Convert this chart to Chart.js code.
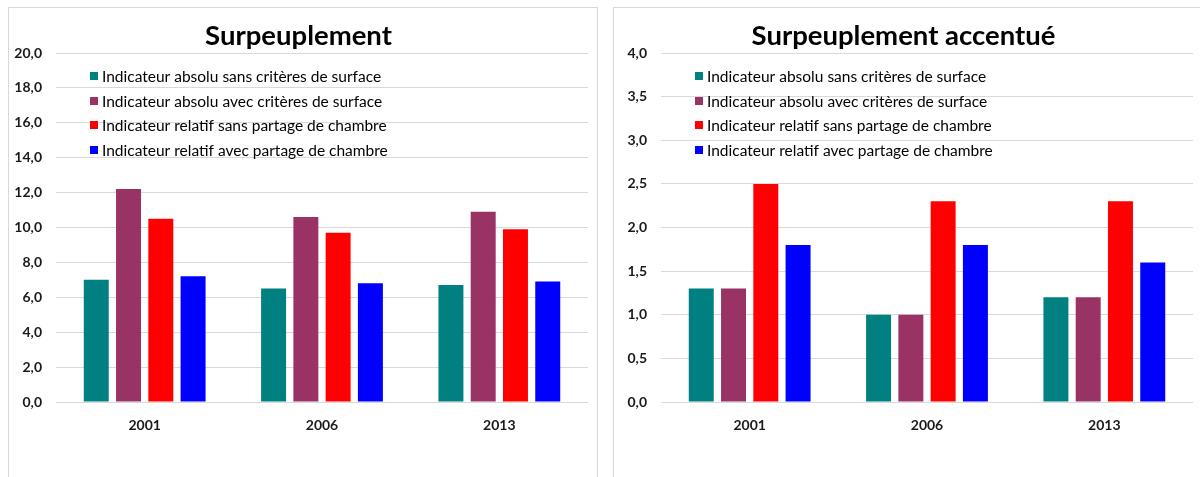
<!DOCTYPE html>
<html lang="fr">
<head>
<meta charset="utf-8">
<title>Surpeuplement</title>
<script src="https://cdn.jsdelivr.net/npm/chart.js@4/dist/chart.umd.min.js"></script>
<style>
    html, body { margin: 0; padding: 0; background: #fff; }
    body { width: 1200px; height: 477px; position: relative; overflow: hidden; }
    .panel {
        position: absolute;
        top: 7px;
        width: 588px;
        height: 480px;
        border: 1px solid #d9d9d9;
        background: #fff;
    }
    .panel canvas { display: block; }
</style>
</head>
<body>
<div class="panel" style="left:8px"><canvas id="chart-surp" width="588" height="470"></canvas></div>
<div class="panel" style="left:613px"><canvas id="chart-acc" width="588" height="470"></canvas></div>

<script>
// Years on the x axis
const years = ['2001', '2006', '2013'];

// Series names and colours (same for both panels)
const seriesLabels = [
    'Indicateur absolu sans critères de surface',
    'Indicateur absolu avec critères de surface',
    'Indicateur relatif sans partage de chambre',
    'Indicateur relatif avec partage de chambre'
];
const seriesColors = ['#008080', '#993366', '#ff0000', '#0000ff'];

// Surpeuplement (%)
const surpAbsoluSans = [7.0, 6.5, 6.7];
const surpAbsoluAvec = [12.2, 10.6, 10.9];
const surpRelatifSans = [10.5, 9.7, 9.9];
const surpRelatifAvec = [7.2, 6.8, 6.9];

// Surpeuplement accentué (%)
const accAbsoluSans = [1.3, 1.0, 1.2];
const accAbsoluAvec = [1.3, 1.0, 1.2];
const accRelatifSans = [2.5, 2.3, 2.3];
const accRelatifAvec = [1.8, 1.8, 1.6];

// Y axis ticks
const surpTicks = [0, 2, 4, 6, 8, 10, 12, 14, 16, 18, 20];
const accTicks = [0, 0.5, 1, 1.5, 2, 2.5, 3, 3.5, 4];

const FONT = 'Lato';

// Legend drawn as a column inside the plot area, top-left
const insideLegend = {
    id: 'insideLegend',
    afterDraw(chart) {
        const { ctx, chartArea } = chart;
        ctx.save();
        ctx.font = `15.5px ${FONT}`;
        ctx.textBaseline = 'middle';
        ctx.textAlign = 'left';
        chart.data.datasets.forEach((ds, i) => {
            const y = chartArea.top + 23 + i * 24.6;
            const x = chartArea.left + 34;
            ctx.fillStyle = ds.backgroundColor;
            ctx.fillRect(x, Math.round(y - 4), 8, 8);
            ctx.fillStyle = '#000';
            ctx.fillText(ds.label, x + 12, y + 1);
        });
        ctx.restore();
    }
};

function fmt(v) {
    return v.toFixed(1).replace('.', ',');
}

function makeChart(canvasId, titleText, seriesData, ticks) {
    const ctx = document.getElementById(canvasId).getContext('2d');
    const datasets = seriesData.map((data, i) => ({
        label: seriesLabels[i],
        data: data,
        backgroundColor: seriesColors[i],
        borderWidth: 0,
        categoryPercentage: 0.728,
        barPercentage: 0.774
    }));

    return new Chart(ctx, {
        type: 'bar',
        data: { labels: years, datasets },
        options: {
            responsive: false,
            animation: false,
            layout: { padding: { top: 0, left: 0, right: 9, bottom: 26 } },
            scales: {
                x: {
                    grid: { display: false, drawTicks: false },
                    border: { display: false },
                    ticks: {
                        color: '#1a1a1a',
                        padding: 15,
                        font: { family: FONT, size: 14, weight: 'bold' }
                    },
                    afterFit: s => { s.height = 50; }
                },
                y: {
                    min: ticks[0],
                    max: ticks[ticks.length - 1],
                    grid: { color: '#d9d9d9', lineWidth: 1, drawTicks: false },
                    border: { display: false },
                    ticks: {
                        color: '#1a1a1a',
                        padding: 14,
                        font: { family: FONT, size: 14, weight: 'bold' },
                        callback: v => fmt(v)
                    },
                    afterBuildTicks: s => { s.ticks = ticks.map(v => ({ value: v })); },
                    afterFit: s => { s.width = 47; }
                }
            },
            plugins: {
                legend: { display: false },
                tooltip: { enabled: false },
                title: {
                    display: true,
                    text: titleText,
                    color: '#000',
                    font: { family: FONT, size: 27.5, weight: 'bold', lineHeight: 1.2 },
                    padding: { top: 12, bottom: 0 }
                }
            }
        },
        plugins: [insideLegend]
    });
}

makeChart('chart-surp', 'Surpeuplement',
    [surpAbsoluSans, surpAbsoluAvec, surpRelatifSans, surpRelatifAvec], surpTicks);
makeChart('chart-acc', 'Surpeuplement accentué',
    [accAbsoluSans, accAbsoluAvec, accRelatifSans, accRelatifAvec], accTicks);
</script>
</body>
</html>
